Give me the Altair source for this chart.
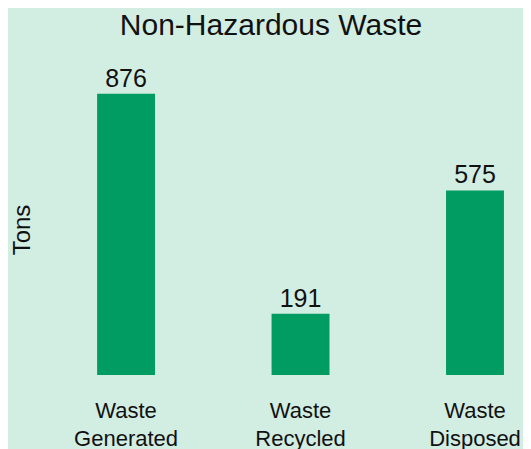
import altair as alt
import pandas as pd

categories = ["Waste Generated", "Waste Recycled", "Waste Disposed"]
tons = [876, 191, 575]

df = pd.DataFrame({"category": categories, "tons": tons})

x = alt.X(
    "category:N", sort=categories, title=None,
    scale=alt.Scale(paddingInner=0.668, paddingOuter=0.181, align=0.746),
    axis=alt.Axis(labelAngle=0, labelExpr="split(datum.label, ' ')",
                  labelFontSize=22, labelLineHeight=28, labelBaseline="alphabetic",
                  labelPadding=42, ticks=False, domain=False, labelColor="#111111",
                  labelAlign="center"),
)
y = alt.Y(
    "tons:Q", scale=alt.Scale(domain=[0, 1000]),
    axis=alt.Axis(title="Tons", labels=False, ticks=False, domain=False, grid=False,
                  titleFontSize=24, titleFontWeight="normal", titleAngle=270,
                  titleBaseline="alphabetic", titleAlign="center",
                  titleX=-21, titleY=175.5, titleColor="#111111"),
)

bars = alt.Chart().mark_bar(color="#009c61").encode(x=x, y=y)
labels = alt.Chart().mark_text(dy=-7, baseline="alphabetic", fontSize=25,
                               color="#111111").encode(x=x, y=y, text="tons:Q")

chart = alt.layer(bars, labels, data=df).properties(
    width=470, height=321,
    autosize=alt.AutoSizeParams(type="none"),
    padding={"left": 42, "top": 46, "right": 3, "bottom": 78},
    background="#d2ede2",
    title=alt.TitleParams("Non-Hazardous Waste", fontSize=30, fontWeight="normal",
                          anchor="middle", offset=13, dx=-14, color="#111111"),
).configure(font="Liberation Sans").configure_view(stroke="transparent", strokeWidth=0)

chart.save("out.html", embed_options={"renderer": "svg", "actions": False})
